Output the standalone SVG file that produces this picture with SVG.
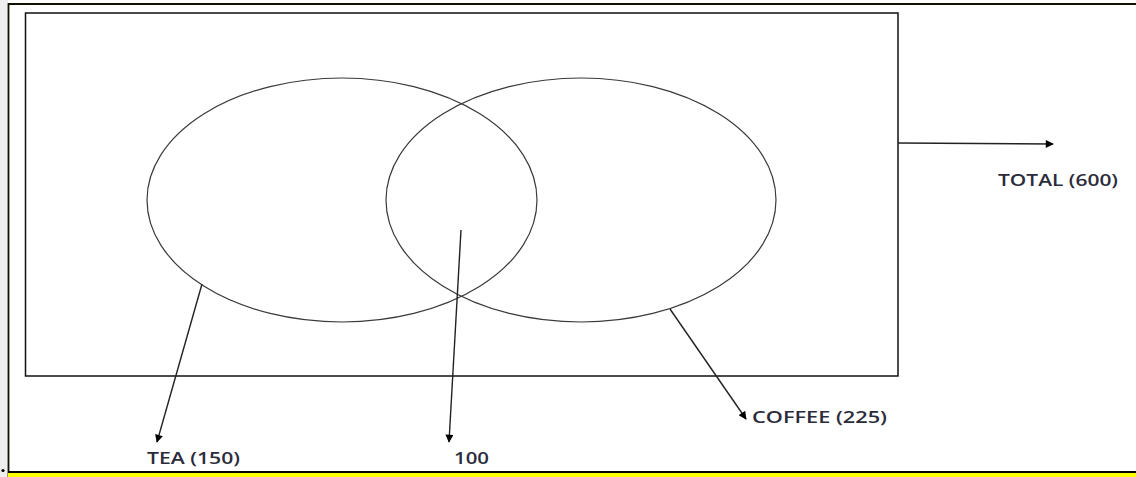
<svg xmlns="http://www.w3.org/2000/svg" width="1136" height="477" viewBox="0 0 1136 477">
  <style>
    .lbl { font-family: "Open Sans", "Liberation Sans", sans-serif; font-size: 15.5px; font-weight: 600; fill: #2b2b3b; }
    .circ { fill: none; stroke: #3a3a3a; stroke-width: 1.2; }
    .arr { fill: none; stroke: #222; stroke-width: 1.4; marker-end: url(#ah); }
  </style>
  <defs>
    <marker id="ah" viewBox="0 0 10 10" refX="9" refY="5" markerWidth="10" markerHeight="8" markerUnits="userSpaceOnUse" orient="auto">
      <path d="M0,0 L10,5 L0,10 Z" fill="#000"/>
    </marker>
  </defs>
  <rect x="0" y="0" width="1136" height="477" fill="#ffffff"/>
  <rect x="0" y="0" width="8" height="477" fill="#eeeeee"/>
  <g id="frame">
    <path d="M8.5,477 V4 H1136" fill="none" stroke="#111100" stroke-width="1.8"/>
    <rect x="8" y="471" width="1128" height="2" fill="#000"/>
    <rect x="8" y="473" width="1128" height="4" fill="#ffff00"/>
    <circle cx="3" cy="470.5" r="1.6" fill="#000"/>
  </g>
  <g id="universe">
    <rect x="25.5" y="13" width="872.5" height="363" fill="none" stroke="#111" stroke-width="1.5"/>
  </g>
  <g id="tea">
    <ellipse class="circ" cx="342" cy="200" rx="195" ry="122"/>
  </g>
  <g id="coffee">
    <ellipse class="circ" cx="581" cy="200" rx="195" ry="122"/>
  </g>
  <g id="connectors">
    <line class="arr" x1="202" y1="284" x2="157" y2="442"/>
    <line class="arr" x1="461" y1="230" x2="449" y2="442"/>
    <line class="arr" x1="670" y1="309" x2="746" y2="419"/>
    <line class="arr" x1="898" y1="143" x2="1053" y2="144"/>
  </g>
  <g id="labels">
    <text class="lbl" x="147" y="464" textLength="93" lengthAdjust="spacingAndGlyphs">TEA (150)</text>
    <text class="lbl" x="454" y="464" textLength="35" lengthAdjust="spacingAndGlyphs">100</text>
    <text class="lbl" x="752" y="423" textLength="135" lengthAdjust="spacingAndGlyphs">COFFEE (225)</text>
    <text class="lbl" x="998" y="186" textLength="120" lengthAdjust="spacingAndGlyphs">TOTAL (600)</text>
  </g>
</svg>
